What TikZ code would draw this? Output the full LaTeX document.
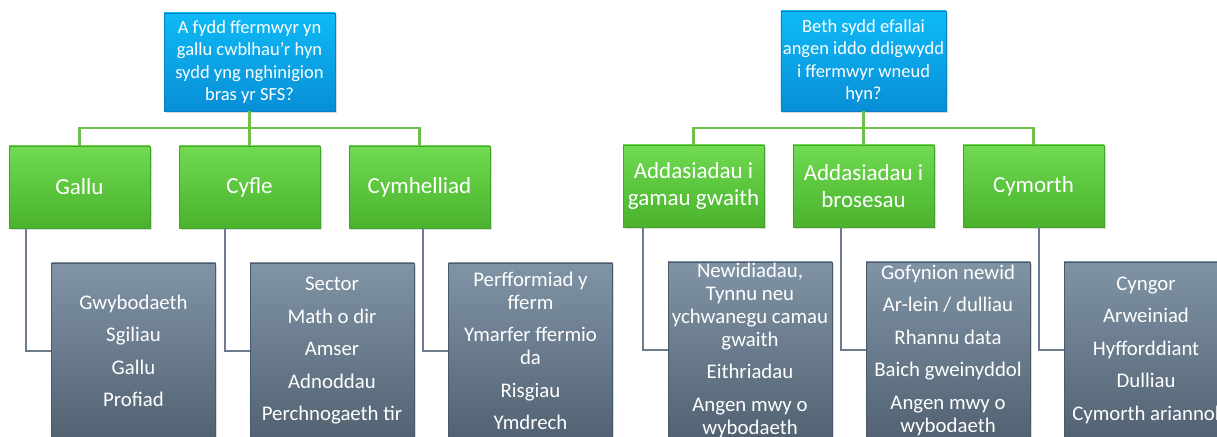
\documentclass[tikz,border=0pt]{standalone}
\usepackage{fontspec}
\setmainfont{Carlito}
\usetikzlibrary{shadows}
\definecolor{qtop}{RGB}{14,186,246}
\definecolor{qbot}{RGB}{8,142,214}
\definecolor{cattop}{RGB}{112,218,82}
\definecolor{catbot}{RGB}{74,178,44}
\definecolor{listtop}{RGB}{128,148,165}
\definecolor{listbot}{RGB}{82,98,115}
\definecolor{linkgreen}{RGB}{112,192,76}
\definecolor{linkgray}{RGB}{108,124,140}
\begin{document}
\begin{tikzpicture}[x=1pt,y=1pt]
\tikzstyle{qbox}=[
	rectangle, draw=qbot!92!black, line width=0.3pt,
	top color=qtop, bottom color=qbot,
	text=white, align=center, inner sep=2pt,
	minimum width=171pt, minimum height=98pt,
	font=\fontsize{18.5}{22.5}\selectfont,
	drop shadow={opacity=0.3, shadow xshift=1.5pt, shadow yshift=-2pt} ]
\tikzstyle{catbox}=[
	rectangle, draw=catbot!92!black, line width=0.3pt,
	top color=cattop, bottom color=catbot,
	text=white, align=center, inner sep=2pt,
	minimum width=141pt, minimum height=82pt,
	font=\fontsize{23}{27.5}\selectfont,
	drop shadow={opacity=0.3, shadow xshift=1.5pt, shadow yshift=-2pt} ]
\tikzstyle{listbox}=[
	rectangle, draw=listbot!92!black, line width=0.3pt,
	top color=listtop, bottom color=listbot,
	text=white, align=center, inner xsep=1pt, inner ysep=0pt,
	minimum width=164pt, minimum height=176pt,
	font=\fontsize{20.8}{23}\selectfont,
	drop shadow={opacity=0.3, shadow xshift=1.5pt, shadow yshift=-2pt} ]
\tikzstyle{level 1}=[sibling distance=170pt, level distance=125pt,
	edge from parent path={(\tikzparentnode.south) -- ++(0,-17pt) -| (\tikzchildnode.north)},
	edge from parent/.style={draw=linkgreen, line width=2.4pt}]
\tikzstyle{level 2}=[level distance=164pt,
	edge from parent path={([xshift=-25pt]\tikzchildnode.west |- \tikzparentnode.south) |- (\tikzchildnode.west)},
	edge from parent/.style={draw=linkgray, line width=2pt}]
\useasboundingbox (0,0) rectangle (1217,436);
\clip (0,0) rectangle (1217,436);
\node[qbox] (q1) at (249.5,374) {A fydd ffermwyr yn\\gallu cwblhau’r hyn\\sydd yng nghinigion\\bras yr SFS?}
	child {node[catbox] (gallu) {Gallu}
		child {node[listbox, xshift=54pt] (gallulist) {Gwybodaeth\\[9.5pt]Sgiliau\\[9.5pt]Gallu\\[9.5pt]Profiad}}
	}
	child {node[catbox] (cyfle) {Cyfle}
		child {node[listbox, xshift=82.5pt] (cyflelist) {Sector\\[9.5pt]Math o dir\\[9.5pt]Amser\\[9.5pt]Adnoddau\\[9.5pt]Perchnogaeth tir}}
	}
	child {node[catbox] (cymhelliad) {Cymhelliad}
		child {node[listbox, xshift=111pt] (cymhellist) {Perfformiad y\\fferm\\[9.5pt]Ymarfer ffermio\\da\\[9.5pt]Risgiau\\[9.5pt]Ymdrech}}
	}
;
\node[qbox, minimum width=162pt, minimum height=100pt] (q2) at (863.5,375) {Beth sydd efallai\\angen iddo ddigwydd\\i ffermwyr wneud\\hyn?}
	child {node[catbox] (gamau) {Addasiadau i\\gamau gwaith}
		child {node[listbox, xshift=56.5pt] (gamaulist) {Newidiadau,\\Tynnu neu\\ychwanegu camau\\gwaith\\[9.5pt]Eithriadau\\[9.5pt]Angen mwy o\\wybodaeth}}
	}
	child {node[catbox] (prosesau) {Addasiadau i\\brosesau}
		child {node[listbox, xshift=84.5pt] (prosesaulist) {Gofynion newid\\[9.5pt]Ar-lein / dulliau\\[9.5pt]Rhannu data\\[9.5pt]Baich gweinyddol\\[9.5pt]Angen mwy o\\wybodaeth}}
	}
	child {node[catbox] (cymorth) {Cymorth}
		child {node[listbox, xshift=112.5pt] (cymorthlist) {Cyngor\\[9.5pt]Arweiniad\\[9.5pt]Hyfforddiant\\[9.5pt]Dulliau\\[9.5pt]Cymorth ariannol}}
	}
;
\end{tikzpicture}
\end{document}
